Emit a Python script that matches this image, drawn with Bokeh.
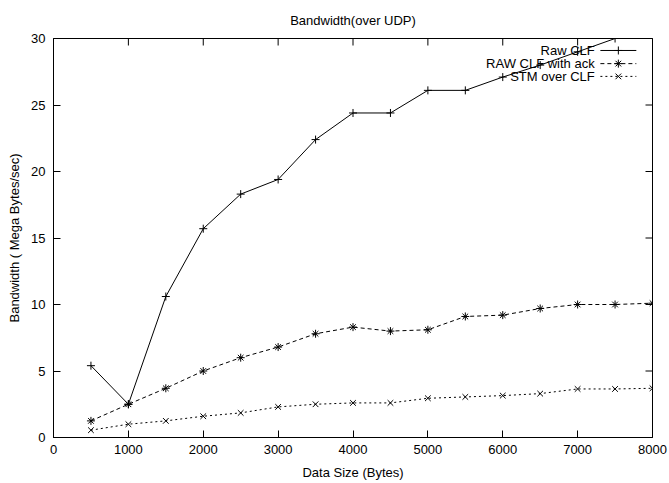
from bokeh.plotting import figure
from bokeh.models import Range1d, FixedTicker
from bokeh.core.properties import value
from bokeh.embed import file_html
from bokeh.resources import INLINE

# ---- data ----
data_size = [500, 1000, 1500, 2000, 2500, 3000, 3500, 4000,
             4500, 5000, 5500, 6000, 6500, 7000, 7500, 8000]
raw_clf = [5.4, 2.5, 10.6, 15.7, 18.3, 19.4, 22.4, 24.4,
           24.4, 26.1, 26.1, 27.1, 28.0, 29.0, 30.0, 30.0]
raw_clf_ack = [1.25, 2.5, 3.7, 5.0, 6.0, 6.8, 7.8, 8.3,
               8.0, 8.1, 9.1, 9.2, 9.7, 10.0, 10.0, 10.1]
stm_over_clf = [0.55, 1.0, 1.25, 1.6, 1.85, 2.3, 2.5, 2.6,
                2.6, 2.95, 3.05, 3.15, 3.3, 3.65, 3.65, 3.7]
series_labels = ["Raw CLF", "RAW CLF with ack", "STM over CLF"]
x_ticks = [0, 1000, 2000, 3000, 4000, 5000, 6000, 7000, 8000]
y_ticks = [0, 5, 10, 15, 20, 25, 30]

FONT = "Liberation Sans"
FS = "13px"
W, H = 669, 483
BL, BR, BT, BB = 53, 17, 38, 46
FW, FH = W - BL - BR, H - BT - BB   # frame size in pixels
TICK = 7

p = figure(width=W, height=H,
           x_range=Range1d(0, 8000), y_range=Range1d(0, 30),
           output_backend="svg", toolbar_location=None,
           min_border_left=BL, min_border_right=BR,
           min_border_top=BT, min_border_bottom=BB,
           title="Bandwidth(over UDP)")
# pixel-unit ranges for the key and the mirrored ticks
p.extra_x_ranges = {"leg": Range1d(0, 1), "px": Range1d(0, FW)}
p.extra_y_ranges = {"leg": Range1d(0, 1), "py": Range1d(0, FH)}

p.title.text_font = FONT
p.title.text_font_size = FS
p.title.text_font_style = "normal"
p.title.align = "center"
p.title.text_color = "black"
p.title.standoff = 21

p.xgrid.visible = False
p.ygrid.visible = False
p.outline_line_color = "black"
p.outline_line_width = 1
p.background_fill_color = "white"
p.border_fill_color = "white"

def style_axis(ax, ticks):
    ax.ticker = FixedTicker(ticks=ticks)
    ax.major_tick_in = TICK
    ax.major_tick_out = 0
    ax.minor_tick_line_color = None
    ax.axis_line_color = "black"
    ax.major_tick_line_color = "black"
    ax.major_label_text_font = FONT
    ax.major_label_text_font_size = FS
    ax.major_label_text_color = "black"
    ax.axis_label_text_font = FONT
    ax.axis_label_text_font_size = FS
    ax.axis_label_text_font_style = "normal"
    ax.axis_label_text_color = "black"

xa = p.xaxis[0]
style_axis(xa, x_ticks)
xa.major_label_standoff = 7
xa.axis_label = "Data Size (Bytes)"
xa.axis_label_standoff = 8

ya = p.yaxis[0]
style_axis(ya, y_ticks)
ya.major_label_standoff = 8
ya.axis_label = "Bandwidth ( Mega Bytes/sec)"
ya.axis_label_standoff = 6

# mirrored inward ticks on the top and right edges
p.segment(x0=x_ticks, x1=x_ticks, y0=[FH] * len(x_ticks),
          y1=[FH - TICK] * len(x_ticks), line_color="black", line_width=1,
          y_range_name="py")
p.segment(x0=[FW] * len(y_ticks), x1=[FW - TICK] * len(y_ticks),
          y0=y_ticks, y1=y_ticks, line_color="black", line_width=1,
          x_range_name="px")

dashes = ["solid", "4 3", "2 3"]
markers = ["cross", "asterisk", "x"]
series = [raw_clf, raw_clf_ack, stm_over_clf]

for ys, dash, mk in zip(series, dashes, markers):
    p.line(data_size, ys, line_color="black", line_width=1, line_dash=dash)
    p.scatter(data_size, ys, marker=mk, size=8, line_color="black",
              fill_color=None, line_width=1)

# gnuplot-style key: text right-aligned, sample to the right
rows = [0.970, 0.937, 0.905]
p.text(x=[0.9035] * 3, y=rows, text=series_labels,
       text_align="right", text_baseline="middle",
       text_font=value(FONT), text_font_size=value(FS), text_color="black",
       x_range_name="leg", y_range_name="leg")
for r, dash, mk in zip(rows, dashes, markers):
    p.line(x=[0.913, 0.973], y=[r, r], line_color="black", line_width=1,
           line_dash=dash, x_range_name="leg", y_range_name="leg")
    p.scatter(x=[0.943], y=[r], marker=mk, size=8, line_color="black",
              fill_color=None, x_range_name="leg", y_range_name="leg")

open("out.html", "w").write(file_html(p, INLINE))
